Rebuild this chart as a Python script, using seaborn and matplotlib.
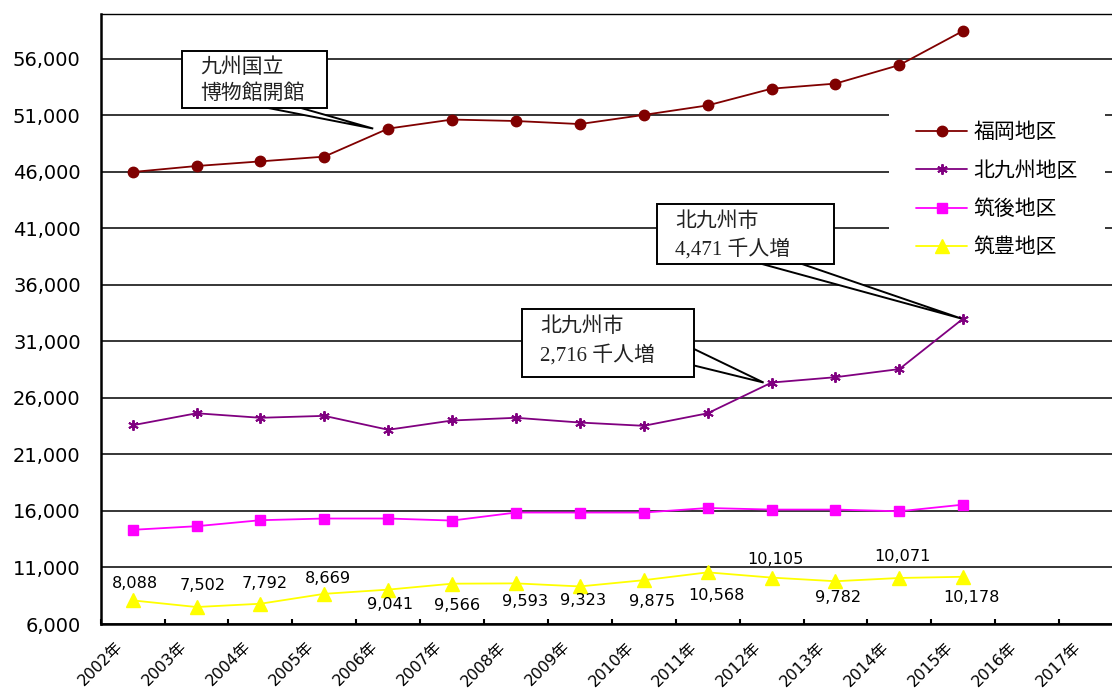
import matplotlib
matplotlib.use("Agg")
import matplotlib.pyplot as plt
import matplotlib.transforms as mtransforms
from matplotlib.patches import Polygon, Rectangle
from matplotlib.ticker import FixedLocator, FuncFormatter
import seaborn as sns
import pandas as pd
import numpy as np

sns.set_theme(style="white")
CJK = ["Noto Sans CJK JP", "DejaVu Sans"]
NUM = ["DejaVu Sans", "Noto Sans CJK JP"]
SERIF = ["Liberation Serif", "Noto Sans CJK JP"]
plt.rcParams["font.family"] = CJK

# ---------------- data ----------------
axis_years = list(range(2002, 2018))
axis_labels = [f"{y}年" for y in axis_years]
data_years = list(range(2002, 2016))
series_names = ["福岡地区", "北九州地区", "筑後地区", "筑豊地区"]
fukuoka = [45980, 46510, 46920, 47340, 49820, 50620, 50490, 50220, 51030, 51870, 53350, 53800, 55440, 58470]
kitakyushu = [23580, 24640, 24240, 24410, 23180, 24000, 24240, 23820, 23530, 24640, 27356, 27830, 28550, 33020]
chikugo = [14330, 14650, 15180, 15330, 15330, 15150, 15860, 15860, 15860, 16260, 16120, 16120, 15970, 16560]
chikuho = [8088, 7502, 7792, 8669, 9041, 9566, 9593, 9323, 9875, 10568, 10105, 9782, 10071, 10178]
y_ticks = list(range(6000, 60000, 5000))
y_min, y_max = 6000, 60000

callout_texts = [["九州国立", "博物館開館"], ["北九州市", "4,471 千人増"], ["北九州市", "2,716 千人増"]]

# ---------------- layout / style ----------------
W, H = 1112, 688
fig = plt.figure(figsize=(W / 100, H / 100), dpi=100)
fig.patch.set_facecolor("white")
ax_l, ax_r, ax_t, ax_b = 100.7, 1123.0, 13.5, 624.0
ax = fig.add_axes([ax_l / W, 1 - ax_b / H, (ax_r - ax_l) / W, (ax_b - ax_t) / H])
ax.set_facecolor("white")
ident = mtransforms.IdentityTransform()


def disp(x, y):
    return (x, H - y)


values = {"福岡地区": fukuoka, "北九州地区": kitakyushu, "筑後地区": chikugo, "筑豊地区": chikuho}
rows = []
for name in series_names:
    for yr, v in zip(data_years, values[name]):
        rows.append({"region": name, "pos": axis_years.index(yr), "value": v})
df = pd.DataFrame(rows)

styles = {
    "福岡地区": dict(color="#800000", marker="o", markersize=7.5, markeredgewidth=1.0),
    "北九州地区": dict(color="#800080", marker=(6, 2, 0), markersize=7.5, markeredgewidth=1.4),
    "筑後地区": dict(color="#FF00FF", marker="s", markersize=7.5, markeredgewidth=1.0),
    "筑豊地区": dict(color="#FFFF00", marker="^", markersize=9.5, markeredgewidth=1.0),
}

handles = []
for name in series_names:
    st = styles[name]
    sub = df[df["region"] == name]
    n_before = len(ax.lines)
    sns.lineplot(data=sub, x="pos", y="value", ax=ax, color=st["color"], marker=st["marker"],
                 markersize=st["markersize"], markeredgecolor=st["color"],
                 markerfacecolor=st["color"], markeredgewidth=st["markeredgewidth"],
                 linewidth=1.3, errorbar=None, legend=False, zorder=3)
    handles.append(ax.lines[n_before])

ax.set_xlim(-0.5, 15.5)
ax.set_ylim(y_min, y_max)
ax.set_xlabel("")
ax.set_ylabel("")

# y axis
ax.yaxis.set_major_locator(FixedLocator(y_ticks))
ax.yaxis.set_major_formatter(FuncFormatter(lambda v, p: f"{int(round(v)):,}"))
ax.grid(axis="y", color="black", linewidth=1.1, zorder=1)
ax.grid(axis="x", visible=False)
ax.tick_params(axis="y", length=0, pad=14.4, labelsize=14, labelcolor="black")
for lbl in ax.get_yticklabels():
    lbl.set_family(NUM)

# x axis
ax.set_xticks(range(len(axis_years)))
ax.set_xticklabels(axis_labels)
ax.set_xticks(np.arange(-0.5, len(axis_years), 1.0), minor=True)
ax.tick_params(axis="x", which="major", length=0, pad=0, labelsize=11.3, labelcolor="black")
ax.tick_params(axis="x", which="minor", bottom=True, direction="in", length=3.8, width=1.5, color="black")
offset = mtransforms.ScaledTranslation(-18 / 100, -15 / 100, fig.dpi_scale_trans)
for lbl in ax.get_xticklabels():
    lbl.set_family(NUM)
    lbl.set_rotation(45)
    lbl.set_ha("right")
    lbl.set_va("top")
    lbl.set_rotation_mode("anchor")
    lbl.set_transform(lbl.get_transform() + offset)

for side in ["left", "bottom"]:
    ax.spines[side].set_color("black")
    ax.spines[side].set_linewidth(1.8)
ax.spines["top"].set_color("black")
ax.spines["top"].set_linewidth(1.0)
ax.spines["right"].set_visible(False)

# data labels for 筑豊地区 (offsets in pixels; +y = down in image)
label_offsets = [(2, -17), (6, -22), (4.5, -20), (4, -15), (2, 15), (5, 22), (8.6, 18.6),
                 (3.5, 14.5), (8.6, 21), (9, 23.6), (3.5, -18), (3, 16), (3, -21), (8, 20.7)]
for i, (v, (dx, dy)) in enumerate(zip(chikuho, label_offsets)):
    ax.annotate(f"{v:,}", xy=(i, v), xytext=(dx, -dy), textcoords="offset pixels",
                ha="center", va="center", fontsize=11.6, family=NUM, color="black", zorder=6)

# legend area: white backing that hides the gridlines, then a frameless legend
legend_bg = Rectangle(disp(889, 270), 1105 - 889, 270 - 100, facecolor="white",
                      edgecolor="none", transform=ident, zorder=2, clip_on=False)
ax.add_patch(legend_bg)
leg = ax.legend(handles, series_names, loc="upper left", bbox_to_anchor=(889 / W, 1 - 94 / H),
                bbox_transform=fig.transFigure, borderaxespad=0, frameon=False,
                fontsize=15, handlelength=2.45, handletextpad=0.3, labelspacing=0.79, borderpad=1.3)
for t in leg.get_texts():
    t.set_color("black")
leg.set_zorder(5)

# callouts (box in image pixels, wedge tip at data point)
callouts = [
    dict(box=(181.7, 51, 327.3, 107.7), text_x=200, text_y=[68, 94],
         base=[(266.7, 107.7), (300, 107.7)], series=fukuoka, idx=4, tip_dx=-15),
    dict(box=(657, 204, 834, 264), text_x=675, text_y=[222.5, 249],
         base=[(762, 264), (802, 264)], series=kitakyushu, idx=13, tip_dx=-2),
    dict(box=(522, 309, 694, 377), text_x=540, text_y=[327, 355],
         base=[(694, 349), (694, 365.5)], series=kitakyushu, idx=10, tip_dx=-8),
]
for c, lines in zip(callouts, callout_texts):
    tip = ax.transData.transform((c["idx"], c["series"][c["idx"]]))
    tip = (tip[0] + c["tip_dx"], tip[1])
    poly = Polygon([disp(*c["base"][0]), tip, disp(*c["base"][1])], closed=True,
                   facecolor="white", edgecolor="black", linewidth=1.4, transform=ident, zorder=7)
    fig.add_artist(poly)
    x0, y0, x1, y1 = c["box"]
    rect = Rectangle(disp(x0, y1), x1 - x0, y1 - y0, facecolor="white", edgecolor="black",
                     linewidth=1.4, transform=ident, zorder=8)
    fig.add_artist(rect)
    for s, ty in zip(lines, c["text_y"]):
        fig.text(c["text_x"] / W, 1 - ty / H, s, ha="left", va="center", fontsize=15,
                 family=SERIF, color="#222222", zorder=9)

fig.savefig("out.png", dpi=100, facecolor="white")
